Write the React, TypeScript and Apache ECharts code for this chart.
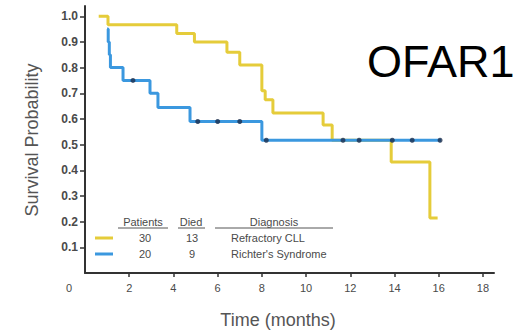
import React, { useEffect, useRef } from "react";
import * as echarts from "echarts";

// Refractory CLL (yellow) Kaplan-Meier steps
const cllTimes = [0.62, 1.04, 4.15, 4.95, 6.42, 7.0, 8.0, 8.15, 8.5, 10.77, 11.18, 13.85, 15.6, 15.95];
const cllSurv = [1.0, 0.967, 0.933, 0.9, 0.86, 0.81, 0.71, 0.675, 0.623, 0.576, 0.517, 0.432, 0.214, 0.214];

// Richter's Syndrome (blue) Kaplan-Meier steps
const rsTimes = [1.0, 1.05, 1.1, 1.15, 1.72, 2.94, 3.3, 4.75, 8.0, 16.1];
const rsSurv = [0.95, 0.9, 0.85, 0.8, 0.75, 0.7, 0.645, 0.59, 0.517, 0.517];

// censor marks on the blue curve
const rsCensorTimes = [2.17, 5.1, 6.0, 7.0, 8.2, 11.67, 12.4, 13.9, 14.8, 16.06];
const rsCensorSurv = [0.75, 0.59, 0.59, 0.59, 0.517, 0.517, 0.517, 0.517, 0.517, 0.517];

const xTicks = [2, 4, 6, 8, 10, 12, 14, 16, 18];
const yTicks = [0.1, 0.2, 0.3, 0.4, 0.5, 0.6, 0.7, 0.8, 0.9, 1.0];

const legendPatients = ["30", "20"];
const legendDied = ["13", "9"];
const legendDiagnosis = ["Refractory CLL", "Richter's Syndrome"];

const YELLOW = "#e5cc3a";
const BLUE = "#3b98df";
const FONT = "Liberation Sans";

export default function App() {
  const ref = useRef<HTMLDivElement>(null);
  useEffect(() => {
    if (!ref.current) return;
    const chart = echarts.init(ref.current, undefined, { renderer: "svg" });
    const textColor = "#4a4a4a";
    const legendRowsY = [238, 254];
    const legendColors = [YELLOW, BLUE];
    const graphic: any[] = [
      {
        type: "text",
        x: 367,
        y: 61,
        style: { text: "OFAR1", fontSize: 45, fontFamily: FONT, fill: "#000", align: "left", verticalAlign: "middle" },
      },
      {
        type: "text",
        x: 69,
        y: 288,
        style: { text: "0", fontSize: 11, fontFamily: FONT, fill: textColor, align: "center", verticalAlign: "middle" },
      },
      {
        type: "text",
        x: 278,
        y: 320,
        style: { text: "Time (months)", fontSize: 18, fontFamily: FONT, fill: "#555", align: "center", verticalAlign: "middle" },
      },
      {
        type: "text",
        x: 32,
        y: 140,
        rotation: Math.PI / 2,
        style: { text: "Survival Probability", fontSize: 18, fontFamily: FONT, fill: "#555", align: "center", verticalAlign: "middle" },
      },
      // legend headers
      { type: "text", x: 143, y: 222, style: { text: "Patients", fontSize: 11, fontFamily: FONT, fill: textColor, align: "center", verticalAlign: "middle" } },
      { type: "line", shape: { x1: 118, y1: 228, x2: 168, y2: 228 }, style: { stroke: "#555", lineWidth: 1 } },
      { type: "text", x: 191, y: 222, style: { text: "Died", fontSize: 11, fontFamily: FONT, fill: textColor, align: "center", verticalAlign: "middle" } },
      { type: "line", shape: { x1: 178, y1: 228, x2: 205, y2: 228 }, style: { stroke: "#555", lineWidth: 1 } },
      { type: "text", x: 274, y: 222, style: { text: "Diagnosis", fontSize: 11, fontFamily: FONT, fill: textColor, align: "center", verticalAlign: "middle" } },
      { type: "line", shape: { x1: 215, y1: 228, x2: 333, y2: 228 }, style: { stroke: "#555", lineWidth: 1 } },
    ];
    legendRowsY.forEach((y, i) => {
      graphic.push({ type: "line", shape: { x1: 95, y1: y, x2: 113, y2: y }, style: { stroke: legendColors[i], lineWidth: 3 } });
      graphic.push({ type: "text", x: 145, y, style: { text: legendPatients[i], fontSize: 11, fontFamily: FONT, fill: textColor, align: "center", verticalAlign: "middle" } });
      graphic.push({ type: "text", x: 192, y, style: { text: legendDied[i], fontSize: 11, fontFamily: FONT, fill: textColor, align: "center", verticalAlign: "middle" } });
      graphic.push({ type: "text", x: 231, y, style: { text: legendDiagnosis[i], fontSize: 11, fontFamily: FONT, fill: textColor, align: "left", verticalAlign: "middle" } });
    });

    chart.setOption({
      animation: false,
      backgroundColor: "#fff",
      grid: { left: 85, top: 6, width: 409, height: 267, containLabel: false },
      xAxis: {
        type: "value",
        min: 0,
        max: 18.5,
        interval: 2,
        splitLine: { show: false },
        axisLine: { show: true, lineStyle: { color: "#333", width: 2 } },
        axisTick: { show: true, length: 4, customValues: xTicks, lineStyle: { color: "#333", width: 1.5 } },
        axisLabel: { customValues: xTicks, fontSize: 11, fontFamily: FONT, color: textColor, margin: 9 },
      },
      yAxis: {
        type: "value",
        min: 0,
        max: 1.04,
        interval: 0.1,
        splitLine: { show: false },
        axisLine: { show: true, lineStyle: { color: "#333", width: 2 } },
        axisTick: { show: true, length: 5, customValues: yTicks, lineStyle: { color: "#333", width: 1.5 } },
        axisLabel: {
          customValues: yTicks,
          fontSize: 12,
          fontFamily: FONT,
          fontWeight: "bold",
          color: textColor,
          margin: 7,
          formatter: (v: number) => v.toFixed(1),
        },
      },
      graphic,
      series: [
        {
          type: "line",
          step: "end",
          data: cllTimes.map((t, i) => [t, cllSurv[i]]),
          showSymbol: false,
          lineStyle: { color: YELLOW, width: 3 },
          itemStyle: { color: YELLOW },
          z: 2,
        },
        {
          type: "line",
          step: "end",
          data: rsTimes.map((t, i) => [t, rsSurv[i]]),
          showSymbol: false,
          lineStyle: { color: BLUE, width: 3 },
          itemStyle: { color: BLUE },
          z: 3,
        },
        {
          type: "scatter",
          data: rsCensorTimes.map((t, i) => [t, rsCensorSurv[i]]),
          symbol: "circle",
          symbolSize: 5,
          itemStyle: { color: "#1c2e4d" },
          z: 4,
        },
      ],
    });
    return () => chart.dispose();
  }, []);
  return <div ref={ref} style={{ position: "fixed", left: 0, top: 0, width: 529, height: 331 }} />;
}
